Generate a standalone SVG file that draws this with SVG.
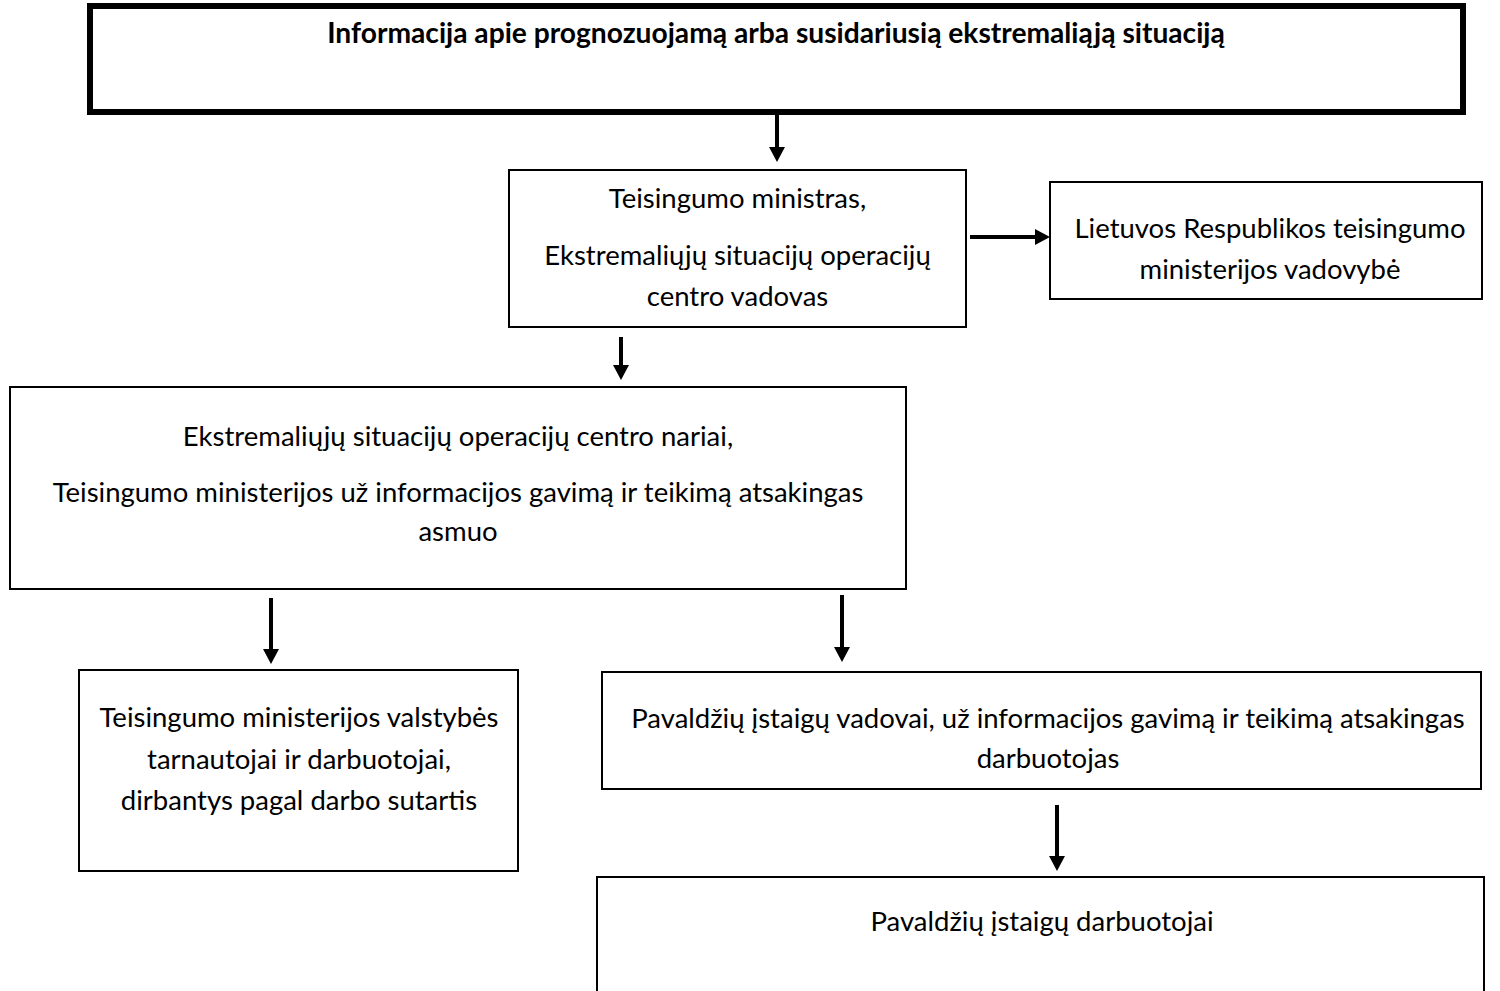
<svg xmlns="http://www.w3.org/2000/svg" width="1500" height="991" viewBox="0 0 1500 991">
<defs>
<style>
.box{fill:#fff;stroke:#000;stroke-width:2}
.thick{fill:#fff;stroke:#000;stroke-width:6}
.t{font-family:Lato,"Liberation Sans",sans-serif;font-size:27.5px;fill:#000;text-anchor:middle}
.b{font-weight:bold;font-size:28.2px}
.c{stroke:#000;stroke-width:4;fill:none;marker-end:url(#ah)}
</style>
<marker id="ah" markerUnits="userSpaceOnUse" markerWidth="18" markerHeight="18" refX="4" refY="8" orient="auto">
<path d="M0,0 L15,8 L0,16 z" fill="#000"/>
</marker>
</defs>
<rect width="1500" height="991" fill="#fff"/>
<g id="n1">
<rect class="thick" x="90" y="6" width="1373" height="106"/>
<text class="t b" x="776" y="43">Informacija apie prognozuojamą arba susidariusią ekstremaliąją situaciją</text>
</g>
<g id="n2">
<rect class="box" x="509" y="170" width="457" height="157"/>
<text class="t" x="737.5" y="208">Teisingumo ministras,</text>
<text class="t" x="737.5" y="265">Ekstremaliųjų situacijų operacijų</text>
<text class="t" x="737.5" y="306">centro vadovas</text>
</g>
<g id="n3">
<rect class="box" x="1050" y="182" width="432" height="117"/>
<text class="t" x="1270" y="238">Lietuvos Respublikos teisingumo</text>
<text class="t" x="1270" y="279">ministerijos vadovybė</text>
</g>
<g id="n4">
<rect class="box" x="10" y="387" width="896" height="202"/>
<text class="t" x="458" y="446">Ekstremaliųjų situacijų operacijų centro nariai,</text>
<text class="t" x="458" y="502">Teisingumo ministerijos už informacijos gavimą ir teikimą atsakingas</text>
<text class="t" x="458" y="541">asmuo</text>
</g>
<g id="n5">
<rect class="box" x="79" y="670" width="439" height="201"/>
<text class="t" x="299" y="727">Teisingumo ministerijos valstybės</text>
<text class="t" x="299" y="769">tarnautojai ir darbuotojai,</text>
<text class="t" x="299" y="810">dirbantys pagal darbo sutartis</text>
</g>
<g id="n6">
<rect class="box" x="602" y="672" width="879" height="117"/>
<text class="t" x="1048" y="728">Pavaldžių įstaigų vadovai, už informacijos gavimą ir teikimą atsakingas</text>
<text class="t" x="1048" y="768">darbuotojas</text>
</g>
<g id="n7">
<rect class="box" x="597" y="877" width="887" height="140"/>
<text class="t" x="1042" y="931">Pavaldžių įstaigų darbuotojai</text>
</g>
<g id="connectors">
<line class="c" x1="777" y1="115" x2="777" y2="151"/>
<line class="c" x1="970" y1="237" x2="1039" y2="237"/>
<line class="c" x1="621" y1="337" x2="621" y2="369"/>
<line class="c" x1="271" y1="598" x2="271" y2="653"/>
<line class="c" x1="842" y1="595" x2="842" y2="651"/>
<line class="c" x1="1057" y1="805" x2="1057" y2="860"/>
</g>
</svg>
